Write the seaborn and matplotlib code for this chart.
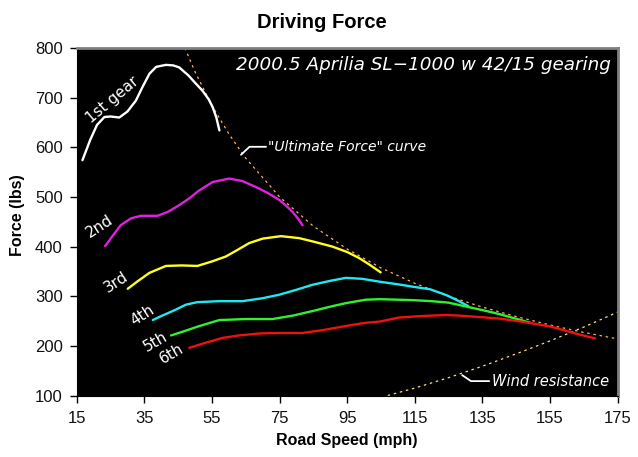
import matplotlib
matplotlib.use("Agg")
import matplotlib.pyplot as plt
import seaborn as sns
import pandas as pd

# gear curves (speed in mph, force in lbs)
gear1_speed = [16.7, 19, 21, 23.2, 25, 27.6, 30, 32.5, 34.5, 36.5, 38.5, 41.4, 43.5, 45.3, 48, 50, 52.2, 54, 55.2, 56.3, 57.2]
gear1_force = [574, 615, 645, 661, 662, 660, 672, 694, 722, 748, 762, 766, 765, 761, 745, 730, 714, 697, 681, 660, 634]

gear2_speed = [23.4, 26, 28, 31.1, 34, 38.9, 42, 45, 48.3, 51, 55.2, 60.1, 64, 68, 71.5, 74.9, 77, 78.8, 80.5, 81.8]
gear2_force = [401, 425, 443, 457, 462, 462, 470, 482, 497, 512, 530, 537, 532, 520, 508, 494, 482, 470, 456, 443]

gear3_speed = [30.1, 33, 36.5, 41.4, 46, 50.7, 55, 59.1, 62.5, 66, 70, 75.4, 80.8, 85, 90.6, 95, 98.5, 101.5, 104.9]
gear3_force = [315, 330, 347, 361, 362, 361, 370, 380, 393, 407, 416, 421, 417, 410, 400, 389, 377, 364, 348]

gear4_speed = [37.5, 40, 44, 47.3, 50.7, 57, 64, 70, 74.9, 80, 84.7, 90, 94.6, 99.5, 104.8, 110, 114.5, 119.5, 124.4, 127.5, 130.8]
gear4_force = [252, 260, 272, 283, 288, 290, 290, 296, 303, 313, 323, 331, 337, 335, 329, 324, 319, 314, 302, 292, 280]

gear5_speed = [42.9, 47, 51.3, 57.2, 65, 72.9, 79, 84.7, 90, 94.6, 100.5, 104.7, 110, 114.6, 120, 125, 130.3, 135, 140, 146.3, 149.3]
gear5_force = [221, 230, 240, 252, 254, 254, 261, 270, 279, 286, 293, 294, 293, 292, 290, 287, 279, 272, 264, 252, 246]

gear6_speed = [48.3, 53, 58.1, 63, 69, 75, 81.8, 88, 94.6, 100, 104.7, 110.3, 114.6, 120, 124.4, 128, 134.2, 140, 146.3, 150, 155, 158.9, 163, 168.3]
gear6_force = [196, 206, 216, 221, 225, 226, 226, 232, 240, 246, 249, 257, 259, 261, 262, 261, 258, 255, 249, 245, 239, 232, 224, 215]

ultimate_speed = [47, 50, 55, 60, 65, 75, 85, 95, 105, 115, 125, 135, 145, 155, 165, 175]
ultimate_force = [800, 752, 684, 627, 578, 500, 441, 395, 357, 326, 300, 278, 259, 242, 227, 214]

wind_speed = [107, 115, 125, 135, 145, 155, 165, 175]
wind_force = [100, 115, 136, 159, 184, 210, 238, 268]

gear_labels = ["1st gear", "2nd", "3rd", "4th", "5th", "6th"]
gear_colors = ["#ffffff", "#e020e0", "#ffff20", "#20e8f0", "#30f030", "#f01010"]
gear_speeds = [gear1_speed, gear2_speed, gear3_speed, gear4_speed, gear5_speed, gear6_speed]
gear_forces = [gear1_force, gear2_force, gear3_force, gear4_force, gear5_force, gear6_force]

sns.set_style("white")
plt.rcParams['font.family'] = ['Liberation Sans', 'DejaVu Sans']
plt.rcParams['text.color'] = 'black'
plt.rcParams['axes.labelcolor'] = 'black'

fig = plt.figure(figsize=(6.38, 4.57), dpi=100)
ax = fig.add_axes([76.7 / 638, 1 - 395.5 / 457, 541 / 638, 347.5 / 457])
ax.set_facecolor("black")

sns.lineplot(x=ultimate_speed, y=ultimate_force, ax=ax, color="#ffb060",
             lw=0.9, linestyle=(0, (2, 3)))
sns.lineplot(x=wind_speed, y=wind_force, ax=ax, color="#ffe070",
             lw=0.9, linestyle=(0, (2, 3)))

for spd, frc, col in zip(gear_speeds, gear_forces, gear_colors):
    sns.lineplot(x=spd, y=frc, ax=ax, color=col, lw=1.7)

ax.set_xlim(15, 175)
ax.set_ylim(100, 800)
ax.set_xticks(range(15, 176, 20))
ax.set_yticks(range(100, 801, 100))
ax.tick_params(direction="out", length=5, width=1, colors="black",
               labelsize=12, labelcolor="#111111", bottom=True, left=True)
ax.tick_params(axis="x", pad=6)
ax.tick_params(axis="y", pad=5)
ax.set_xlabel("")
ax.set_ylabel("")
for side in ["left", "bottom"]:
    ax.spines[side].set_color("black")
for side in ["top", "right"]:
    ax.spines[side].set_color("#808080")
    ax.spines[side].set_linewidth(2)

# gear labels
label_pos = [(25.7, 695, 40), (21.8, 441, 33), (26.7, 329, 33),
             (34.4, 262, 33), (38.4, 208, 30), (43.0, 184, 30)]
for txt, (lx, ly, rot) in zip(gear_labels, label_pos):
    ax.text(lx, ly, txt, color="white", fontsize=11, rotation=rot,
            ha="center", va="center", family="DejaVu Sans")

# annotations
ax.plot([63.6, 66.1, 71.0], [585, 601, 601], color="white", lw=1.3)
ax.text(71.6, 601, "\"Ultimate Force\" curve", color="white", fontsize=10,
        style="italic", va="center", ha="left", family="DejaVu Sans")
ax.plot([129, 131.6, 137], [141, 129, 129], color="white", lw=1.3)
ax.text(137.8, 129, "Wind resistance", color="white", fontsize=10.5,
        style="italic", va="center", ha="left", family="DejaVu Sans")

ax.text(173, 766, "2000.5 Aprilia SL\u22121000 w 42/15 gearing", color="white",
        fontsize=13.2, style="italic", ha="right", va="center", family="DejaVu Sans")

fig.text(322 / 638, 1 - 22 / 457, "Driving Force", fontsize=14.5, fontweight="bold",
         ha="center", va="center")
fig.text(347 / 638, 1 - 440 / 457, "Road Speed (mph)", fontsize=11.5, fontweight="bold",
         ha="center", va="center")
fig.text(18 / 638, 1 - 215 / 457, "Force (lbs)", fontsize=11.5, fontweight="bold",
         ha="center", va="center", rotation=90)

fig.savefig("out.png", dpi=100, facecolor="white")
